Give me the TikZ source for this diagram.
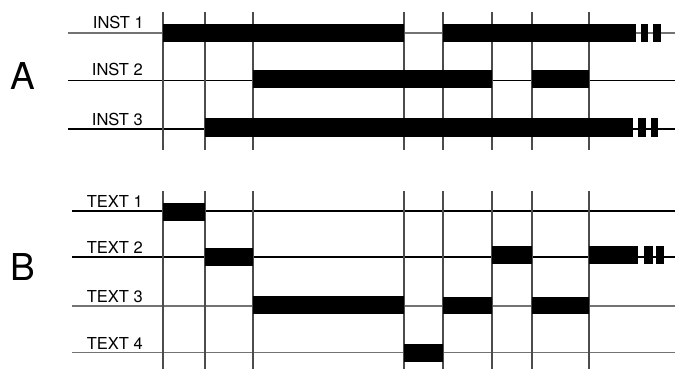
\documentclass[tikz,border=0pt]{standalone}
\usepackage{fontspec}
\setmainfont{TeX Gyre Heros}
\usetikzlibrary{positioning}

\begin{document}
\begin{tikzpicture}[
        x=1pt, y=-1pt,
        track/.style={line width=1.3pt},
        grid/.style={line width=1.6pt, black!70},
        bar/.style={fill=black},
        rowlabel/.style={
            anchor=base east,
            inner sep=0pt,
            font=\fontsize{16.5}{17}\selectfont
        },
        group/.style={
            anchor=base west,
            inner sep=0pt,
            font=\fontsize{37}{37}\selectfont
        }
    ]
        \useasboundingbox (0,0) rectangle (675,369);

        % group letters
        \node[group] (A) at (10,90) {A};
        \node[group] (B) at (10,280) {B};

        % row labels
        \node[rowlabel] (inst1) at (144,29) {INST 1};
        \node[rowlabel] (inst2) at (143,76) {INST 2};
        \node[rowlabel] (inst3) at (143,125) {INST 3};
        \node[rowlabel] (text1) at (143,207) {TEXT 1};
        \node[rowlabel] (text2) at (143,253) {TEXT 2};
        \node[rowlabel] (text3) at (143,302) {TEXT 3};
        \node[rowlabel] (text4) at (143,349) {TEXT 4};

        % tracks
        \draw[track, black!55] (68,33) -- (675,33);
        \draw[track] (68,80.5) -- (675,80.5);
        \draw[track] (68,129) -- (675,129);
        \draw[track] (72,211) -- (675,211);
        \draw[track] (72,257) -- (675,257);
        \draw[track, black!55] (72,306) -- (675,306);
        \draw[track, black!55] (72,352.5) -- (675,352.5);

        % time marks
        \foreach \x in {163,205,253,404,443,492,532,589} {
            \draw[grid] (\x,12) -- (\x,150);
            \draw[grid] (\x,191) -- (\x,369);
        }

        % A bars
        \fill[bar] (163,24) rectangle (404,42);
        \fill[bar] (443,24) rectangle (636,42);
        \fill[bar] (641,24) rectangle (648,42);
        \fill[bar] (653,24) rectangle (661,42);
        \fill[bar] (253,70) rectangle (492,88);
        \fill[bar] (532,70) rectangle (589,88);
        \fill[bar] (205,118) rectangle (633,137);
        \fill[bar] (638,118) rectangle (646,137);
        \fill[bar] (651,118) rectangle (658,137);

        % B bars
        \fill[bar] (163,203) rectangle (205,221);
        \fill[bar] (205,248) rectangle (253,266);
        \fill[bar] (492,246) rectangle (532,264);
        \fill[bar] (589,246) rectangle (638,264);
        \fill[bar] (644,246) rectangle (652.5,264);
        \fill[bar] (656,246) rectangle (664,264);
        \fill[bar] (253,296) rectangle (404,314);
        \fill[bar] (443,297) rectangle (492,314);
        \fill[bar] (532,297) rectangle (589,314);
        \fill[bar] (404,344) rectangle (443,362);
\end{tikzpicture}
\end{document}
